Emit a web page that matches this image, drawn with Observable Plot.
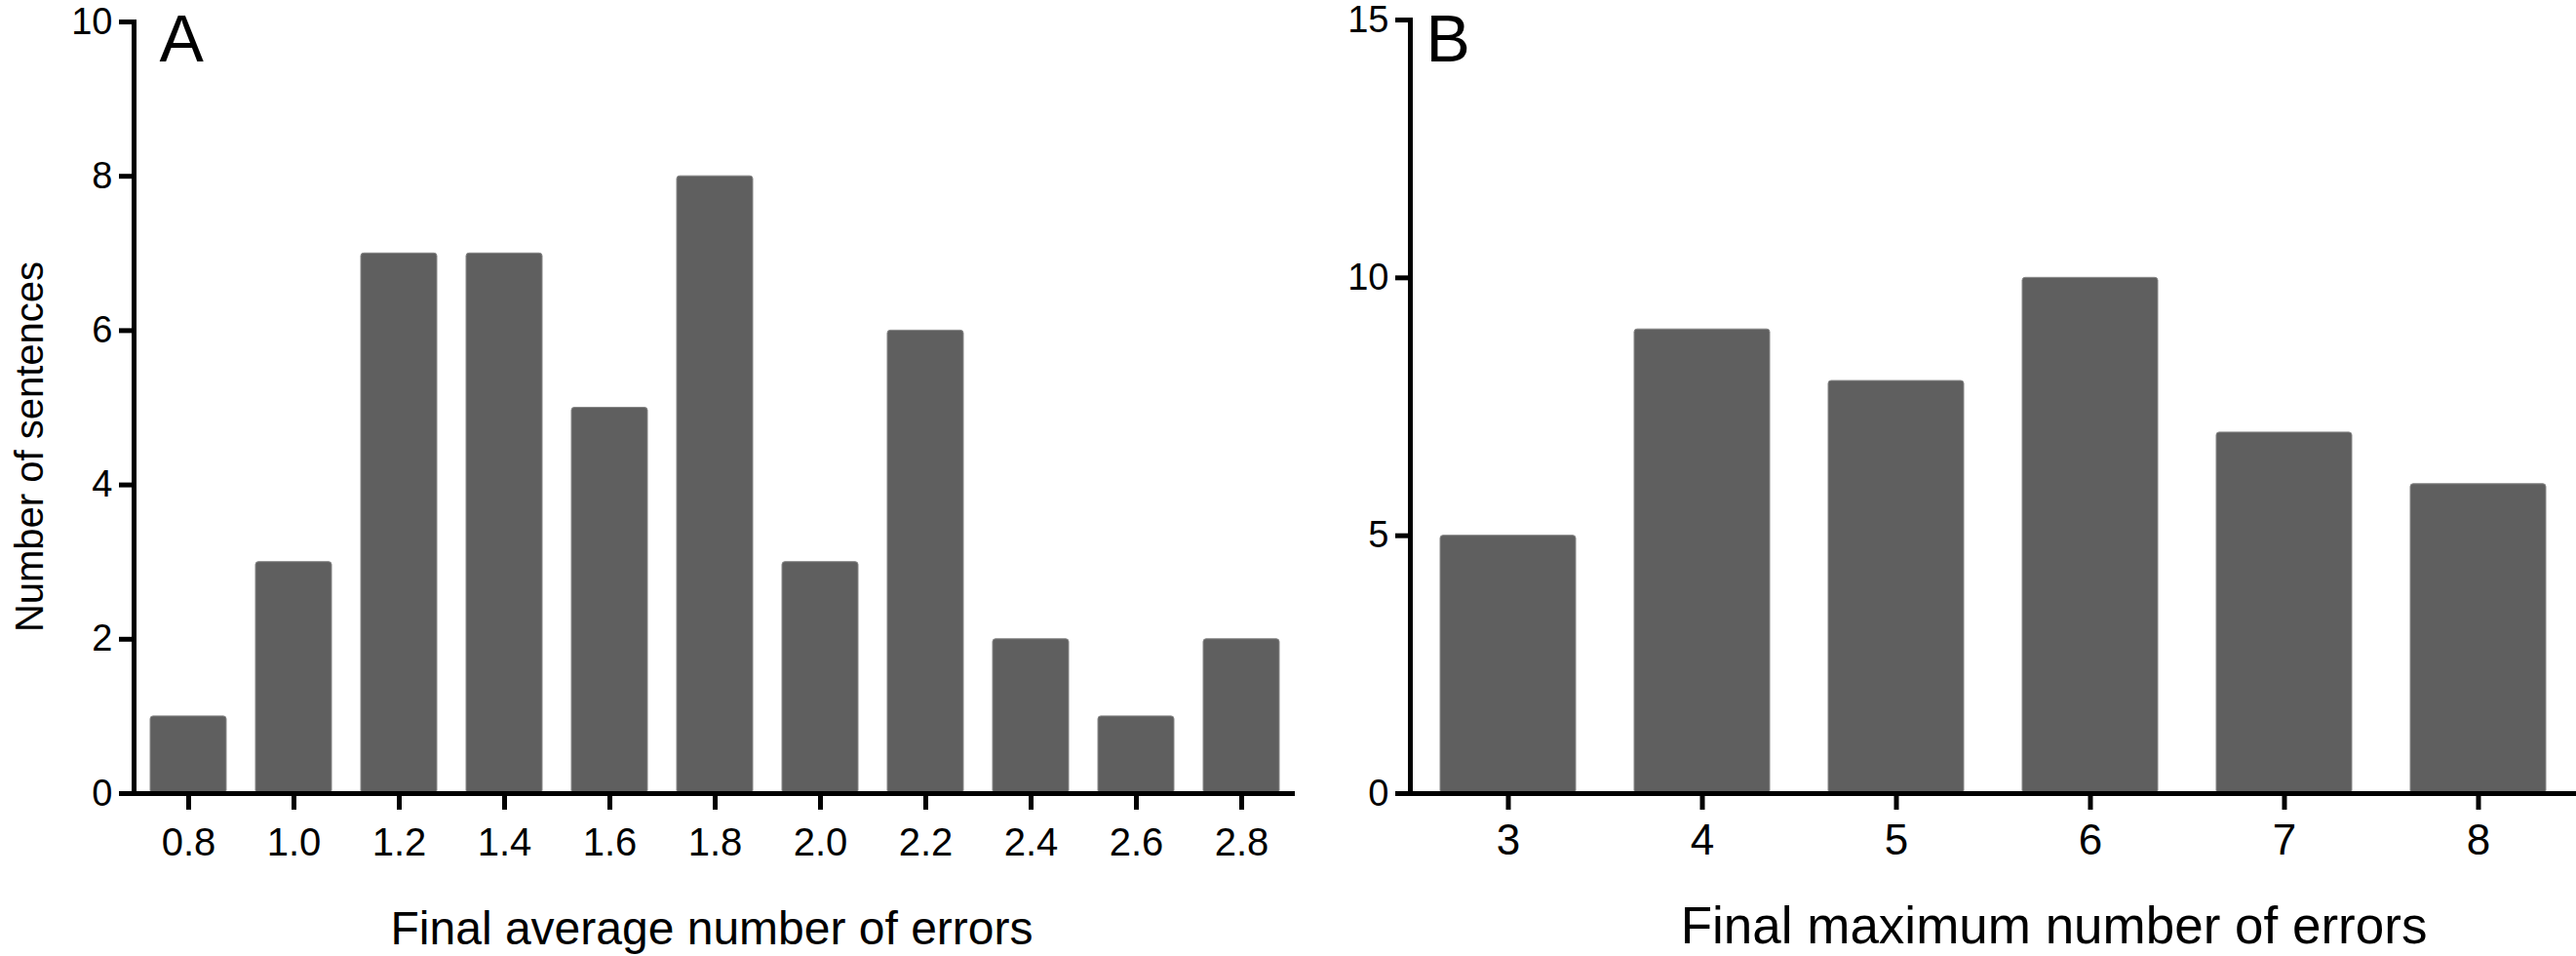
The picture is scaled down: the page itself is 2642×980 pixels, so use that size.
<!DOCTYPE html>
<html><head><meta charset="utf-8">
<script src="https://cdn.jsdelivr.net/npm/d3@7"></script>
<script src="https://cdn.jsdelivr.net/npm/@observablehq/plot@0.6"></script>
<style>
body{margin:0;background:#fff;}
#wrap{display:flex;width:2642px;height:980px;overflow:hidden;}
#wrap svg{display:block;}
</style></head><body><div id="wrap"></div>
<script>
// ---- data ----
const avgCategories = ["0.8","1.0","1.2","1.4","1.6","1.8","2.0","2.2","2.4","2.6","2.8"];
const avgCounts = [1,3,7,7,5,8,3,6,2,1,2];
const maxCategories = ["3","4","5","6","7","8"];
const maxCounts = [5,9,8,10,7,6];
const yTicksA = [0,2,4,6,8,10];
const yTicksB = [0,5,10,15];
const panelLabels = ["A","B"];
const xTitles = ["Final average number of errors","Final maximum number of errors"];
const yTitle = "Number of sentences";

const FONT = '"Liberation Sans", Arial, Helvetica, sans-serif';
const BAR_FILL = "#5f5f5f";

function panel(cfg){
  const data = cfg.cats.map((c,i)=>({c, n: cfg.counts[i]}));
  const marks = [
    Plot.barY(data,{x:"c",y:"n",fill:BAR_FILL,stroke:"#878787",strokeWidth:1,rx:3}),
    Plot.ruleY([0],{stroke:"#000",strokeWidth:5}),
    Plot.frame({anchor:"left",stroke:"#000",strokeWidth:5}),
    Plot.axisX({tickSize:17,tickPadding:cfg.xTickPad,strokeWidth:5,fontSize:cfg.xTickFont,label:null,fill:"#000"}),
    Plot.axisY({ticks:cfg.yTicks,tickSize:15,tickPadding:7,strokeWidth:5,fontSize:38,label:null,fill:"#000"}),
    Plot.text([cfg.letter],{text:d=>d,frameAnchor:"top-left",textAnchor:"start",lineAnchor:"top",dx:cfg.letterDx,dy:cfg.letterDy,fontSize:68,fill:"#000"}),
    Plot.text([cfg.xTitle],{text:d=>d,frameAnchor:"bottom",textAnchor:"middle",lineAnchor:"top",dy:cfg.xTitleDy,dx:cfg.xTitleDx,fontSize:cfg.xTitleFont,fill:"#000"})
  ];
  if (cfg.yTitle) marks.push(
    Plot.text([cfg.yTitle],{text:d=>d,frameAnchor:"left",textAnchor:"middle",rotate:-90,lineAnchor:"top",dx:-122,dy:40,fontSize:40,fill:"#000"})
  );
  return Plot.plot({
    width:cfg.width,height:980,
    marginLeft:cfg.ml,marginRight:cfg.mr,marginTop:cfg.mt,marginBottom:167,
    style:{fontFamily:FONT,color:"#000",background:"transparent",overflow:"visible"},
    x:{domain:cfg.cats,paddingInner:cfg.pad,paddingOuter:cfg.pad/2,axis:null},
    y:{domain:cfg.yDomain,axis:null},
    marks
  });
}

const wrap = document.getElementById("wrap");
wrap.appendChild(panel({
  cats:avgCategories,counts:avgCounts,yTicks:yTicksA,yDomain:[0,10],
  width:1380,ml:137,mr:52,mt:22,pad:0.28,
  letter:panelLabels[0],letterDx:26,letterDy:-8,xTitle:xTitles[0],xTitleDx:-3,xTitleDy:120,xTitleFont:48,
  xTickFont:40,xTickPad:18,yTitle:yTitle
}));
wrap.appendChild(panel({
  cats:maxCategories,counts:maxCounts,yTicks:yTicksB,yDomain:[0,15],
  width:1262,ml:66,mr:0,mt:20,pad:0.30,
  letter:panelLabels[1],letterDx:16,letterDy:-6,xTitle:xTitles[1],xTitleDx:62,xTitleDy:116,xTitleFont:53,
  xTickFont:44,xTickPad:14,yTitle:null
}));
</script></body></html>
